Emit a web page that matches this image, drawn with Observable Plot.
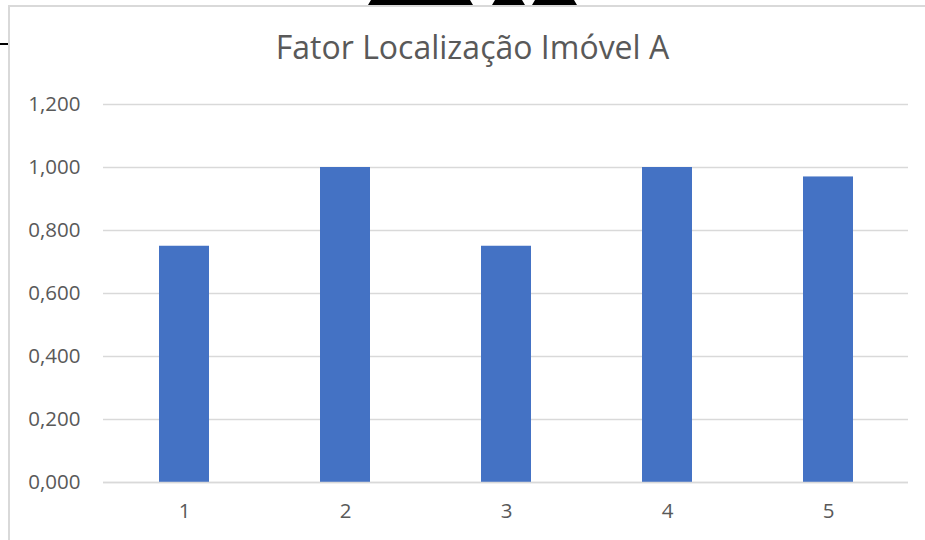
<!DOCTYPE html>
<html>
<head>
<meta charset="utf-8">
<script src="https://cdn.jsdelivr.net/npm/d3@7"></script>
<script src="https://cdn.jsdelivr.net/npm/@observablehq/plot@0.6"></script>
<style>
  html, body { margin: 0; padding: 0; background: #fff; }
  #wrap { position: relative; width: 925px; height: 540px; overflow: hidden; background: #fff; }
  #frame { position: absolute; left: 8px; top: 5px; width: 930px; height: 540px;
           border-left: 2px solid #d9d9d9; border-top: 2px solid #d9d9d9; }
  #tick { position: absolute; left: 0; top: 43px; width: 8px; height: 2px; background: #000; }
  .deco { position: absolute; top: 0; height: 5px; background: #000;
          clip-path: polygon(3px 0, calc(100% - 3px) 0, 100% 100%, 0 100%); }
  #title { position: absolute; left: 0; top: 25px; width: 925px; text-align: center;
           font-family: "Open Sans", sans-serif; font-size: 32px; line-height: normal; color: #595959; padding-left: 20px; box-sizing: border-box; }
  #chart { position: absolute; left: 0; top: 90px; }
</style>
</head>
<body>
<div id="wrap">
  <div class="deco" style="left:368px;width:105px"></div>
  <div class="deco" style="left:492px;width:33px"></div>
  <div class="deco" style="left:532px;width:45px"></div>
  <div id="frame"></div>
  <div id="tick"></div>
  <div id="title">Fator Localização Imóvel A</div>
  <div id="chart"></div>
</div>
<script>
const categories = [1, 2, 3, 4, 5];
const values = [0.75, 1.0, 0.75, 1.0, 0.97];
const yTicks = [0, 0.2, 0.4, 0.6, 0.8, 1.0, 1.2];

const data = categories.map((c, i) => ({cat: c, value: values[i]}));
const fmt = d => d3.format(".3f")(d).replace(".", ",");

const chart = Plot.plot({
  width: 925,
  height: 450,
  marginTop: 14,
  marginBottom: 58,
  marginLeft: 103,
  marginRight: 17,
  style: {fontFamily: "Open Sans, sans-serif", fontSize: "20.5px", color: "#595959", background: "transparent", overflow: "visible"},
  x: {type: "band", domain: categories, paddingInner: 0.69, paddingOuter: 0.345, label: null},
  y: {domain: [0, 1.2], label: null},
  marks: [
    Plot.gridY(yTicks, {stroke: "#d9d9d9", strokeOpacity: 1, strokeWidth: 1.3}),
    Plot.barY(data, {x: "cat", y: "value", fill: "#4472C4"}),
    Plot.ruleY([0], {stroke: "#d9d9d9", strokeWidth: 1.6}),
    Plot.axisY(yTicks, {tickSize: 0, tickPadding: 23, tickFormat: fmt, fill: "#595959", label: null}),
    Plot.axisX({tickSize: 0, tickPadding: 21, fill: "#595959", label: null})
  ]
});
document.getElementById("chart").appendChild(chart);
</script>
</body>
</html>
